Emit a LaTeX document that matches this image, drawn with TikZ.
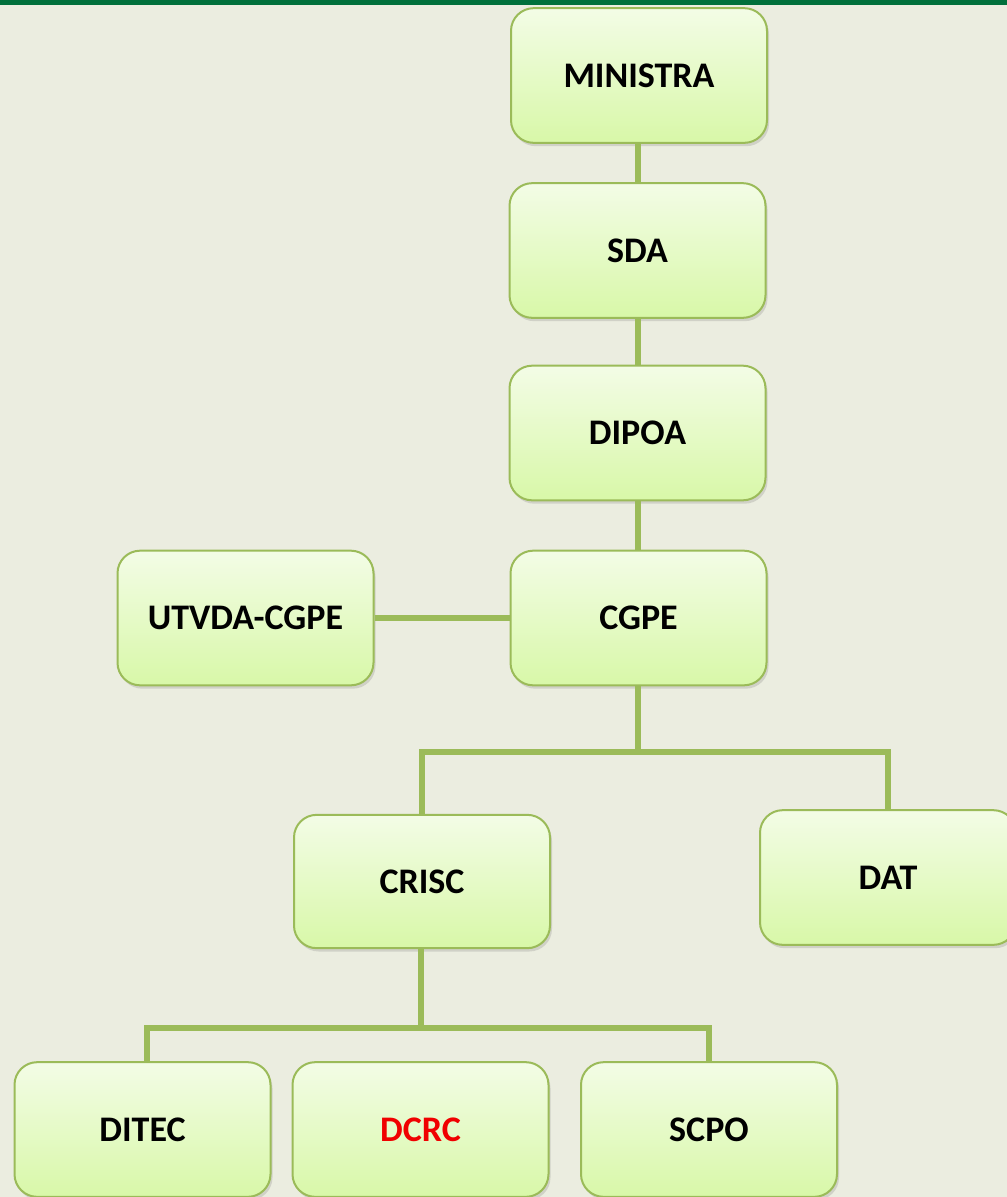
\documentclass[tikz,border=0pt]{standalone}
\usepackage{fontspec}
\setmainfont{Carlito}
\usetikzlibrary{shadows,calc}
\definecolor{bg}{RGB}{235,237,224}
\definecolor{topbar}{RGB}{0,112,60}
\definecolor{lineg}{RGB}{155,187,89}
\definecolor{boxtop}{RGB}{243,252,230}
\definecolor{boxbot}{RGB}{216,248,168}
\definecolor{redtxt}{RGB}{240,0,0}
\tikzset{
  orgbox/.style={rectangle, rounded corners=17pt, draw=lineg, line width=1.5pt,
    top color=boxtop, bottom color=boxbot, minimum width=192pt, minimum height=101pt,
    font=\fontsize{27}{30}\selectfont\bfseries, text=black,
    drop shadow={opacity=0.25, shadow xshift=1.5pt, shadow yshift=-2.5pt}},
  conn/.style={draw=lineg, line width=4.5pt}
}
\begin{document}
\begin{tikzpicture}[x=0.75pt,y=-0.75pt]
\fill[bg] (0,0) rectangle (1007,1197);
\useasboundingbox (0,0) rectangle (1007,1197);
\fill[topbar] (0,0) rectangle (1007,5);
\coordinate (j1) at (638,752);
\coordinate (j2) at (421,1028);
\node[orgbox] (ministra) at (639,75.5) {MINISTRA};
\node[orgbox] (sda) at (637.5,250.5) {SDA};
\node[orgbox] (dipoa) at (637.5,433) {DIPOA};
\node[orgbox] (cgpe) at (638.5,618) {CGPE};
\node[orgbox] (utvda) at (245.5,618) {UTVDA-CGPE};
\node[orgbox, minimum height=100pt] (crisc) at (422,881.5) {CRISC};
\node[orgbox] (dat) at (888,877.5) {DAT};
\node[orgbox] (ditec) at (142.5,1129.5) {DITEC};
\node[orgbox, text=redtxt] (dcrc) at (420.5,1129.5) {DCRC};
\node[orgbox] (scpo) at (709,1129.5) {SCPO};
\draw[conn] (ministra.south -| j1) -- (sda.north -| j1);
\draw[conn] (sda.south -| j1) -- (dipoa.north -| j1);
\draw[conn] (dipoa.south -| j1) -- (cgpe.north -| j1);
\draw[conn] (utvda.east) -- (cgpe.west);
\draw[conn] (cgpe.south -| j1) -- (j1);
\draw[conn] (crisc.north) |- (j1) -| (dat.north);
\draw[conn] (crisc.south -| j2) -- (j2);
\draw[conn] ($(ditec.north)+(4,0)$) |- (j2) -| (scpo.north);
\end{tikzpicture}
\end{document}
